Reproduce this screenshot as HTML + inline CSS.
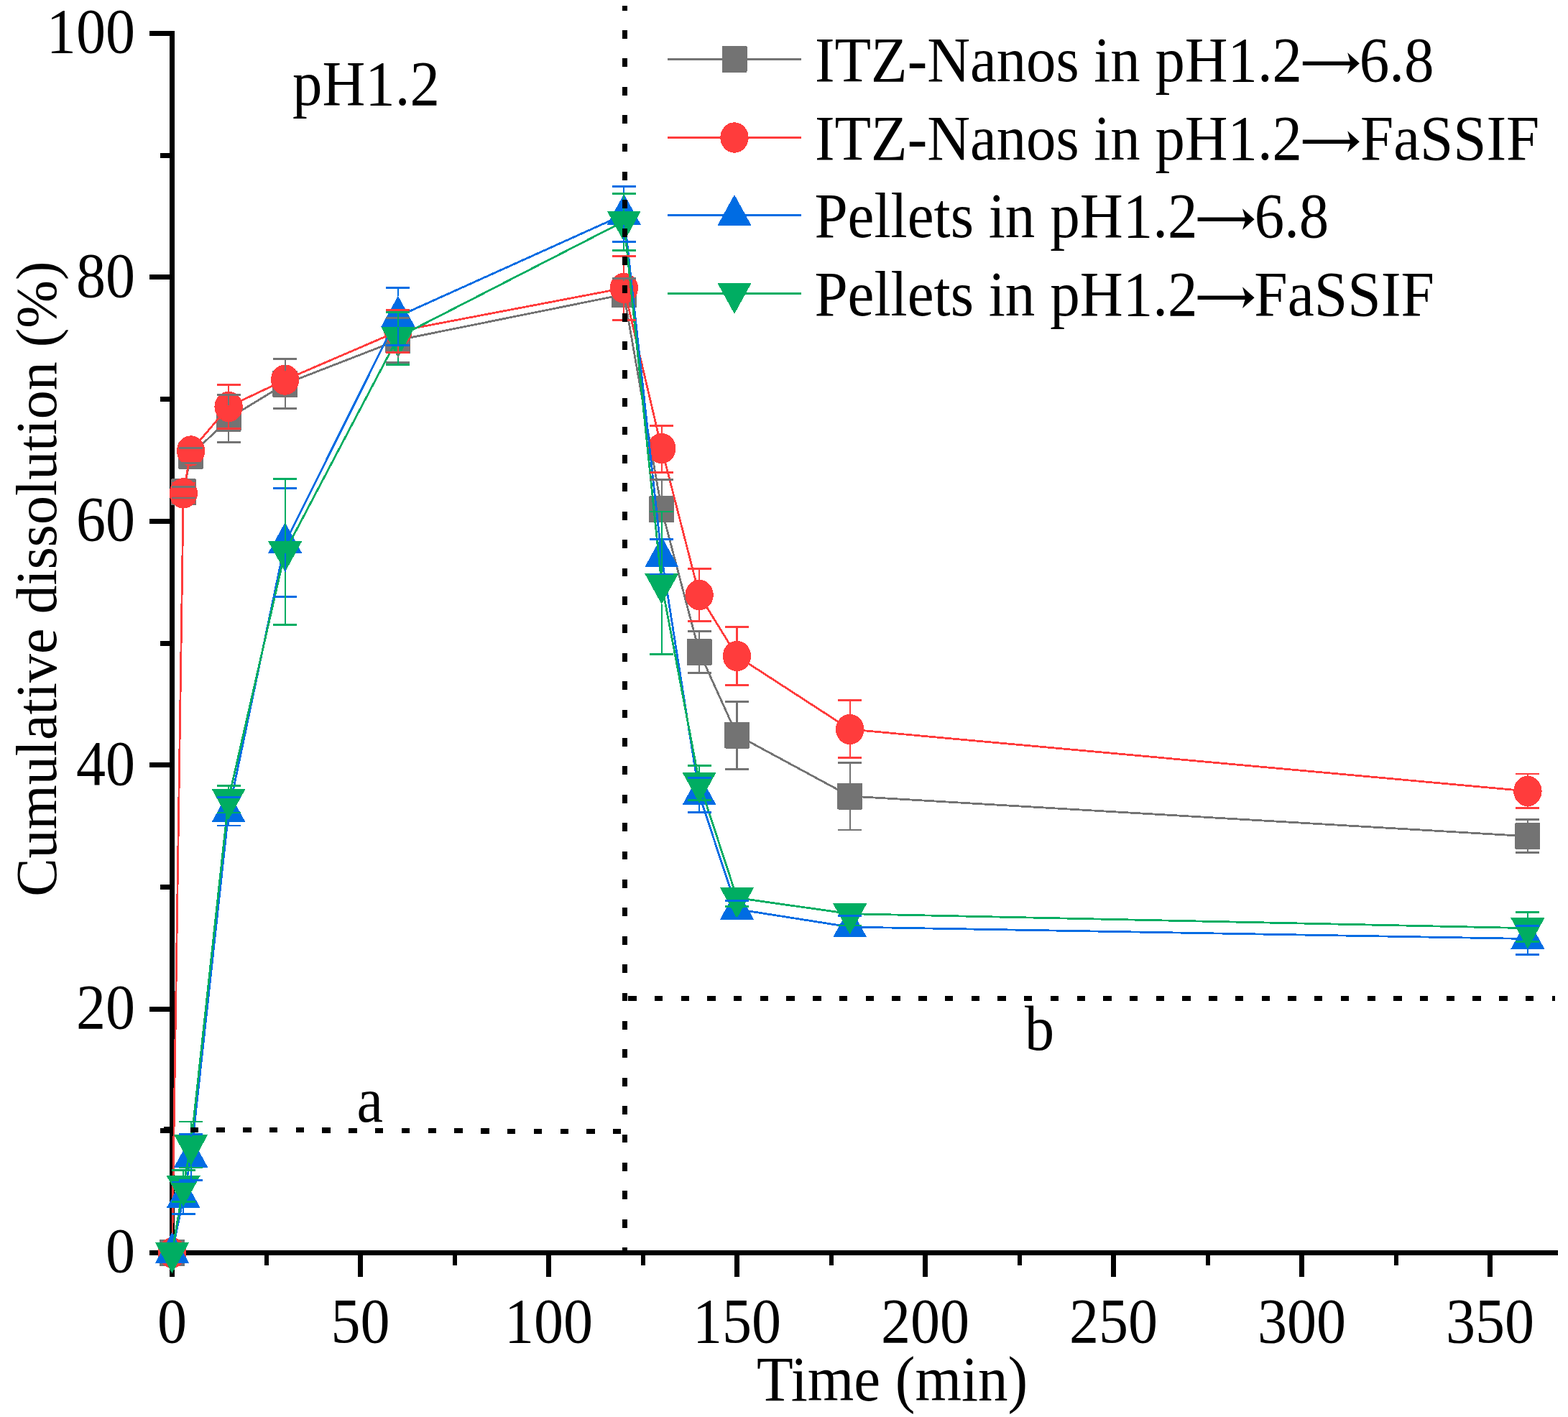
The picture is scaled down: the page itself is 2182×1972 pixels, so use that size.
<!DOCTYPE html>
<html><head><meta charset="utf-8"><title>Cumulative dissolution</title>
<style>html,body{margin:0;padding:0;background:#fff;overflow:hidden;}svg{display:block;}</style>
</head><body>
<svg width="2182" height="1972" viewBox="0 0 2182 1972" shape-rendering="crispEdges"><rect x="0" y="0" width="2182" height="1972" fill="#fff"/>
<g fill="#000"><rect x="236" y="43" width="7" height="1704"/><rect x="208" y="1740" width="1960" height="7"/><rect x="208" y="1740" width="30" height="7"/><rect x="208" y="1400.6" width="30" height="7"/><rect x="208" y="1061.2" width="30" height="7"/><rect x="208" y="721.8" width="30" height="7"/><rect x="208" y="382.4" width="30" height="7"/><rect x="208" y="43" width="30" height="7"/><rect x="222.5" y="1570.3" width="15" height="7"/><rect x="222.5" y="1230.9" width="15" height="7"/><rect x="222.5" y="891.5" width="15" height="7"/><rect x="222.5" y="552.1" width="15" height="7"/><rect x="222.5" y="212.7" width="15" height="7"/><rect x="236" y="1745" width="7" height="32"/><rect x="498" y="1745" width="7" height="32"/><rect x="760" y="1745" width="7" height="32"/><rect x="1022" y="1745" width="7" height="32"/><rect x="1284" y="1745" width="7" height="32"/><rect x="1546" y="1745" width="7" height="32"/><rect x="1808" y="1745" width="7" height="32"/><rect x="2070" y="1745" width="7" height="32"/><rect x="367.5" y="1745" width="6" height="15.7"/><rect x="629.5" y="1745" width="6" height="15.7"/><rect x="891.5" y="1745" width="6" height="15.7"/><rect x="1153.5" y="1745" width="6" height="15.7"/><rect x="1415.5" y="1745" width="6" height="15.7"/><rect x="1677.5" y="1745" width="6" height="15.7"/><rect x="1939.5" y="1745" width="6" height="15.7"/></g>
<polyline points="239.5,1743.5 255.22,684.9 265.7,634.1 318.1,582.2 396.7,534.3 553.9,473.3 868.3,409.8 920.7,708.7 973.1,907.3 1025.5,1023 1182.7,1108 2125.9,1163.8" fill="none" stroke="#737373" stroke-width="2.8" stroke-linejoin="round"/>
<rect x="222" y="1725" width="35" height="37" rx="1.5" fill="#737373"/><rect x="237.72" y="666.4" width="35" height="37" rx="1.5" fill="#737373"/><rect x="248.2" y="615.6" width="35" height="37" rx="1.5" fill="#737373"/><rect x="300.6" y="563.7" width="35" height="37" rx="1.5" fill="#737373"/><rect x="379.2" y="515.8" width="35" height="37" rx="1.5" fill="#737373"/><rect x="536.4" y="454.8" width="35" height="37" rx="1.5" fill="#737373"/><rect x="850.8" y="391.3" width="35" height="37" rx="1.5" fill="#737373"/><rect x="903.2" y="690.2" width="35" height="37" rx="1.5" fill="#737373"/><rect x="955.6" y="888.8" width="35" height="37" rx="1.5" fill="#737373"/><rect x="1008" y="1004.5" width="35" height="37" rx="1.5" fill="#737373"/><rect x="1165.2" y="1089.5" width="35" height="37" rx="1.5" fill="#737373"/><rect x="2108.4" y="1145.3" width="35" height="37" rx="1.5" fill="#737373"/>
<polyline points="239.5,1743.5 255.22,686.4 265.7,627.5 318.1,566 396.7,528.6 553.9,460.9 868.3,400.9 920.7,624 973.1,828 1025.5,913 1182.7,1015 2125.9,1101" fill="none" stroke="#FF3C3C" stroke-width="2.8" stroke-linejoin="round"/>
<ellipse cx="239.5" cy="1743.5" rx="19.7" ry="21.2" fill="#FF3C3C"/><ellipse cx="255.22" cy="686.4" rx="19.7" ry="21.2" fill="#FF3C3C"/><ellipse cx="265.7" cy="627.5" rx="19.7" ry="21.2" fill="#FF3C3C"/><ellipse cx="318.1" cy="566" rx="19.7" ry="21.2" fill="#FF3C3C"/><ellipse cx="396.7" cy="528.6" rx="19.7" ry="21.2" fill="#FF3C3C"/><ellipse cx="553.9" cy="460.9" rx="19.7" ry="21.2" fill="#FF3C3C"/><ellipse cx="868.3" cy="400.9" rx="19.7" ry="21.2" fill="#FF3C3C"/><ellipse cx="920.7" cy="624" rx="19.7" ry="21.2" fill="#FF3C3C"/><ellipse cx="973.1" cy="828" rx="19.7" ry="21.2" fill="#FF3C3C"/><ellipse cx="1025.5" cy="913" rx="19.7" ry="21.2" fill="#FF3C3C"/><ellipse cx="1182.7" cy="1015" rx="19.7" ry="21.2" fill="#FF3C3C"/><ellipse cx="2125.9" cy="1101" rx="19.7" ry="21.2" fill="#FF3C3C"/>
<polyline points="239.5,1743.5 255.22,1666.8 265.7,1610.3 318.1,1130 396.7,755.5 553.9,440.4 868.3,298.5 920.7,775.1 973.1,1105.9 1025.5,1265.3 1182.7,1290.1 2125.9,1306.5" fill="none" stroke="#006CE3" stroke-width="2.8" stroke-linejoin="round"/>
<path d="M239.5 1714.83L263.1 1757.83L215.9 1757.83Z" fill="#006CE3"/><path d="M255.22 1638.13L278.82 1681.13L231.62 1681.13Z" fill="#006CE3"/><path d="M265.7 1581.63L289.3 1624.63L242.1 1624.63Z" fill="#006CE3"/><path d="M318.1 1101.33L341.7 1144.33L294.5 1144.33Z" fill="#006CE3"/><path d="M396.7 726.83L420.3 769.83L373.1 769.83Z" fill="#006CE3"/><path d="M553.9 411.73L577.5 454.73L530.3 454.73Z" fill="#006CE3"/><path d="M868.3 269.83L891.9 312.83L844.7 312.83Z" fill="#006CE3"/><path d="M920.7 746.43L944.3 789.43L897.1 789.43Z" fill="#006CE3"/><path d="M973.1 1077.23L996.7 1120.23L949.5 1120.23Z" fill="#006CE3"/><path d="M1025.5 1236.63L1049.1 1279.63L1001.9 1279.63Z" fill="#006CE3"/><path d="M1182.7 1261.43L1206.3 1304.43L1159.1 1304.43Z" fill="#006CE3"/><path d="M2125.9 1277.83L2149.5 1320.83L2102.3 1320.83Z" fill="#006CE3"/>
<polyline points="239.5,1743.5 255.22,1650.4 265.7,1593.4 318.1,1112.1 396.7,767.5 553.9,469.3 868.3,308 920.7,812.3 973.1,1089.2 1025.5,1249.5 1182.7,1271.7 2125.9,1291.7" fill="none" stroke="#00AD62" stroke-width="2.8" stroke-linejoin="round"/>
<path d="M215.9 1729.17L263.1 1729.17L239.5 1772.17Z" fill="#00AD62"/><path d="M231.62 1636.07L278.82 1636.07L255.22 1679.07Z" fill="#00AD62"/><path d="M242.1 1579.07L289.3 1579.07L265.7 1622.07Z" fill="#00AD62"/><path d="M294.5 1097.77L341.7 1097.77L318.1 1140.77Z" fill="#00AD62"/><path d="M373.1 753.17L420.3 753.17L396.7 796.17Z" fill="#00AD62"/><path d="M530.3 454.97L577.5 454.97L553.9 497.97Z" fill="#00AD62"/><path d="M844.7 293.67L891.9 293.67L868.3 336.67Z" fill="#00AD62"/><path d="M897.1 797.97L944.3 797.97L920.7 840.97Z" fill="#00AD62"/><path d="M949.5 1074.87L996.7 1074.87L973.1 1117.87Z" fill="#00AD62"/><path d="M1001.9 1235.17L1049.1 1235.17L1025.5 1278.17Z" fill="#00AD62"/><path d="M1159.1 1257.37L1206.3 1257.37L1182.7 1300.37Z" fill="#00AD62"/><path d="M2102.3 1277.37L2149.5 1277.37L2125.9 1320.37Z" fill="#00AD62"/>
<g fill="#737373" stroke="#737373" stroke-width="2.1"><rect stroke="none" x="238.72" y="676.2" width="33" height="2.8"/><rect stroke="none" x="238.72" y="691.6" width="33" height="2.8"/><rect stroke="none" x="249.2" y="622.1" width="33" height="2.8"/><rect stroke="none" x="249.2" y="643.2" width="33" height="2.8"/><line x1="318.1" y1="563.7" x2="318.1" y2="549.5"/><rect stroke="none" x="301.6" y="548.1" width="33" height="2.8"/><line x1="318.1" y1="600.7" x2="318.1" y2="615.4"/><rect stroke="none" x="301.6" y="614" width="33" height="2.8"/><line x1="396.7" y1="515.8" x2="396.7" y2="499.5"/><rect stroke="none" x="380.2" y="498.1" width="33" height="2.8"/><line x1="396.7" y1="552.8" x2="396.7" y2="568.4"/><rect stroke="none" x="380.2" y="567" width="33" height="2.8"/><line x1="553.9" y1="454.8" x2="553.9" y2="442.4"/><rect stroke="none" x="537.4" y="441" width="33" height="2.8"/><line x1="553.9" y1="491.8" x2="553.9" y2="504.5"/><rect stroke="none" x="537.4" y="503.1" width="33" height="2.8"/><line x1="868.3" y1="391.3" x2="868.3" y2="387.3"/><rect stroke="none" x="851.8" y="385.9" width="33" height="2.8"/><line x1="920.7" y1="690.2" x2="920.7" y2="667.3"/><rect stroke="none" x="904.2" y="665.9" width="33" height="2.8"/><line x1="920.7" y1="727.2" x2="920.7" y2="750"/><rect stroke="none" x="904.2" y="748.6" width="33" height="2.8"/><line x1="973.1" y1="888.8" x2="973.1" y2="878.5"/><rect stroke="none" x="956.6" y="877.1" width="33" height="2.8"/><line x1="973.1" y1="925.8" x2="973.1" y2="936.8"/><rect stroke="none" x="956.6" y="935.4" width="33" height="2.8"/><line x1="1025.5" y1="1004.5" x2="1025.5" y2="976.6"/><rect stroke="none" x="1009" y="975.2" width="33" height="2.8"/><line x1="1025.5" y1="1041.5" x2="1025.5" y2="1070.1"/><rect stroke="none" x="1009" y="1068.7" width="33" height="2.8"/><line x1="1182.7" y1="1089.5" x2="1182.7" y2="1061.7"/><rect stroke="none" x="1166.2" y="1060.3" width="33" height="2.8"/><line x1="1182.7" y1="1126.5" x2="1182.7" y2="1155"/><rect stroke="none" x="1166.2" y="1153.6" width="33" height="2.8"/><line x1="2125.9" y1="1145.3" x2="2125.9" y2="1140.7"/><rect stroke="none" x="2109.4" y="1139.3" width="33" height="2.8"/><line x1="2125.9" y1="1182.3" x2="2125.9" y2="1186.5"/><rect stroke="none" x="2109.4" y="1185.1" width="33" height="2.8"/></g>
<g fill="#FF3C3C" stroke="#FF3C3C" stroke-width="2.1"><rect stroke="none" x="238.72" y="670.6" width="33" height="2.8"/><rect stroke="none" x="238.72" y="698.6" width="33" height="2.8"/><line x1="318.1" y1="544.8" x2="318.1" y2="535.2"/><rect stroke="none" x="301.6" y="533.8" width="33" height="2.8"/><line x1="318.1" y1="587.2" x2="318.1" y2="596.5"/><rect stroke="none" x="301.6" y="595.1" width="33" height="2.8"/><rect stroke="none" x="380.2" y="516.6" width="33" height="2.8"/><rect stroke="none" x="380.2" y="537.6" width="33" height="2.8"/><line x1="553.9" y1="439.7" x2="553.9" y2="431.5"/><rect stroke="none" x="537.4" y="430.1" width="33" height="2.8"/><line x1="553.9" y1="482.1" x2="553.9" y2="490.2"/><rect stroke="none" x="537.4" y="488.8" width="33" height="2.8"/><line x1="868.3" y1="379.7" x2="868.3" y2="356.5"/><rect stroke="none" x="851.8" y="355.1" width="33" height="2.8"/><line x1="868.3" y1="422.1" x2="868.3" y2="445.2"/><rect stroke="none" x="851.8" y="443.8" width="33" height="2.8"/><line x1="920.7" y1="602.8" x2="920.7" y2="592.3"/><rect stroke="none" x="904.2" y="590.9" width="33" height="2.8"/><line x1="920.7" y1="645.2" x2="920.7" y2="657.5"/><rect stroke="none" x="904.2" y="656.1" width="33" height="2.8"/><line x1="973.1" y1="806.8" x2="973.1" y2="791.4"/><rect stroke="none" x="956.6" y="790" width="33" height="2.8"/><line x1="973.1" y1="849.2" x2="973.1" y2="864.5"/><rect stroke="none" x="956.6" y="863.1" width="33" height="2.8"/><line x1="1025.5" y1="891.8" x2="1025.5" y2="872.3"/><rect stroke="none" x="1009" y="870.9" width="33" height="2.8"/><line x1="1025.5" y1="934.2" x2="1025.5" y2="953.5"/><rect stroke="none" x="1009" y="952.1" width="33" height="2.8"/><line x1="1182.7" y1="993.8" x2="1182.7" y2="974.2"/><rect stroke="none" x="1166.2" y="972.8" width="33" height="2.8"/><line x1="1182.7" y1="1036.2" x2="1182.7" y2="1054.8"/><rect stroke="none" x="1166.2" y="1053.4" width="33" height="2.8"/><line x1="2125.9" y1="1079.8" x2="2125.9" y2="1076.9"/><rect stroke="none" x="2109.4" y="1075.5" width="33" height="2.8"/><line x1="2125.9" y1="1122.2" x2="2125.9" y2="1124.8"/><rect stroke="none" x="2109.4" y="1123.4" width="33" height="2.8"/></g>
<g fill="#006CE3" stroke="#006CE3" stroke-width="2.1"><rect stroke="none" x="238.72" y="1643.6" width="33" height="2.8"/><line x1="255.22" y1="1681.13" x2="255.22" y2="1689.3"/><rect stroke="none" x="238.72" y="1687.9" width="33" height="2.8"/><line x1="265.7" y1="1581.63" x2="265.7" y2="1578.4"/><rect stroke="none" x="249.2" y="1577" width="33" height="2.8"/><line x1="265.7" y1="1624.63" x2="265.7" y2="1642.4"/><rect stroke="none" x="249.2" y="1641" width="33" height="2.8"/><rect stroke="none" x="301.6" y="1108.2" width="33" height="2.8"/><line x1="318.1" y1="1144.33" x2="318.1" y2="1148.9"/><rect stroke="none" x="301.6" y="1147.5" width="33" height="2.8"/><line x1="396.7" y1="726.83" x2="396.7" y2="679.3"/><rect stroke="none" x="380.2" y="677.9" width="33" height="2.8"/><line x1="396.7" y1="769.83" x2="396.7" y2="830.4"/><rect stroke="none" x="380.2" y="829" width="33" height="2.8"/><line x1="553.9" y1="411.73" x2="553.9" y2="400.4"/><rect stroke="none" x="537.4" y="399" width="33" height="2.8"/><line x1="553.9" y1="454.73" x2="553.9" y2="480.3"/><rect stroke="none" x="537.4" y="478.9" width="33" height="2.8"/><line x1="868.3" y1="269.83" x2="868.3" y2="259.3"/><rect stroke="none" x="851.8" y="257.9" width="33" height="2.8"/><line x1="868.3" y1="312.83" x2="868.3" y2="336.6"/><rect stroke="none" x="851.8" y="335.2" width="33" height="2.8"/><rect stroke="none" x="904.2" y="749.1" width="33" height="2.8"/><line x1="920.7" y1="789.43" x2="920.7" y2="798.9"/><rect stroke="none" x="904.2" y="797.5" width="33" height="2.8"/><rect stroke="none" x="956.6" y="1081" width="33" height="2.8"/><line x1="973.1" y1="1120.23" x2="973.1" y2="1130.5"/><rect stroke="none" x="956.6" y="1129.1" width="33" height="2.8"/><rect stroke="none" x="1009" y="1252" width="33" height="2.8"/><rect stroke="none" x="1009" y="1275.8" width="33" height="2.8"/><rect stroke="none" x="1166.2" y="1272.7" width="33" height="2.8"/><rect stroke="none" x="2109.4" y="1287.1" width="33" height="2.8"/><line x1="2125.9" y1="1320.83" x2="2125.9" y2="1328.4"/><rect stroke="none" x="2109.4" y="1327" width="33" height="2.8"/></g>
<g fill="#00AD62" stroke="#00AD62" stroke-width="2.1"><line x1="255.22" y1="1636.07" x2="255.22" y2="1628.5"/><rect stroke="none" x="238.72" y="1627.1" width="33" height="2.8"/><rect stroke="none" x="238.72" y="1670.8" width="33" height="2.8"/><line x1="265.7" y1="1579.07" x2="265.7" y2="1560.9"/><rect stroke="none" x="249.2" y="1559.5" width="33" height="2.8"/><line x1="265.7" y1="1622.07" x2="265.7" y2="1625"/><rect stroke="none" x="249.2" y="1623.6" width="33" height="2.8"/><line x1="318.1" y1="1097.77" x2="318.1" y2="1093.4"/><rect stroke="none" x="301.6" y="1092" width="33" height="2.8"/><rect stroke="none" x="301.6" y="1129.6" width="33" height="2.8"/><line x1="396.7" y1="753.17" x2="396.7" y2="666.4"/><rect stroke="none" x="380.2" y="665" width="33" height="2.8"/><line x1="396.7" y1="796.17" x2="396.7" y2="869.4"/><rect stroke="none" x="380.2" y="868" width="33" height="2.8"/><line x1="553.9" y1="454.97" x2="553.9" y2="434.5"/><rect stroke="none" x="537.4" y="433.1" width="33" height="2.8"/><line x1="553.9" y1="497.97" x2="553.9" y2="507.1"/><rect stroke="none" x="537.4" y="505.7" width="33" height="2.8"/><line x1="868.3" y1="293.67" x2="868.3" y2="269.3"/><rect stroke="none" x="851.8" y="267.9" width="33" height="2.8"/><line x1="868.3" y1="336.67" x2="868.3" y2="348.7"/><rect stroke="none" x="851.8" y="347.3" width="33" height="2.8"/><line x1="920.7" y1="797.97" x2="920.7" y2="712"/><rect stroke="none" x="904.2" y="710.6" width="33" height="2.8"/><line x1="920.7" y1="840.97" x2="920.7" y2="910.4"/><rect stroke="none" x="904.2" y="909" width="33" height="2.8"/><line x1="973.1" y1="1074.87" x2="973.1" y2="1065.3"/><rect stroke="none" x="956.6" y="1063.9" width="33" height="2.8"/><rect stroke="none" x="956.6" y="1111.7" width="33" height="2.8"/><rect stroke="none" x="1009" y="1235.8" width="33" height="2.8"/><rect stroke="none" x="1009" y="1260.4" width="33" height="2.8"/><rect stroke="none" x="1166.2" y="1286.6" width="33" height="2.8"/><line x1="2125.9" y1="1277.37" x2="2125.9" y2="1269.7"/><rect stroke="none" x="2109.4" y="1268.3" width="33" height="2.8"/><rect stroke="none" x="2109.4" y="1309.4" width="33" height="2.8"/></g>
<g fill="#000"><rect x="866" y="8" width="7" height="6.6"/><rect x="866" y="42" width="7" height="11.8"/><rect x="866" y="81.4" width="7" height="11.8"/><rect x="866" y="120.8" width="7" height="11.8"/><rect x="866" y="160.2" width="7" height="11.8"/><rect x="866" y="199.6" width="7" height="11.8"/><rect x="866" y="239" width="7" height="11.8"/><rect x="866" y="278.4" width="7" height="11.8"/><rect x="866" y="317.8" width="7" height="11.8"/><rect x="866" y="357.2" width="7" height="11.8"/><rect x="866" y="396.6" width="7" height="11.8"/><rect x="866" y="436" width="7" height="11.8"/><rect x="866" y="475.4" width="7" height="11.8"/><rect x="866" y="514.8" width="7" height="11.8"/><rect x="866" y="554.2" width="7" height="11.8"/><rect x="866" y="593.6" width="7" height="11.8"/><rect x="866" y="633" width="7" height="11.8"/><rect x="866" y="672.4" width="7" height="11.8"/><rect x="866" y="711.8" width="7" height="11.8"/><rect x="866" y="751.2" width="7" height="11.8"/><rect x="866" y="790.6" width="7" height="11.8"/><rect x="866" y="830" width="7" height="11.8"/><rect x="866" y="869.4" width="7" height="11.8"/><rect x="866" y="908.8" width="7" height="11.8"/><rect x="866" y="948.2" width="7" height="11.8"/><rect x="866" y="987.6" width="7" height="11.8"/><rect x="866" y="1027" width="7" height="11.8"/><rect x="866" y="1066.4" width="7" height="11.8"/><rect x="866" y="1105.8" width="7" height="11.8"/><rect x="866" y="1145.2" width="7" height="11.8"/><rect x="866" y="1184.6" width="7" height="11.8"/><rect x="866" y="1224" width="7" height="11.8"/><rect x="866" y="1263.4" width="7" height="11.8"/><rect x="866" y="1302.8" width="7" height="11.8"/><rect x="866" y="1342.2" width="7" height="11.8"/><rect x="866" y="1381.6" width="7" height="11.8"/><rect x="866" y="1421" width="7" height="11.8"/><rect x="866" y="1460.4" width="7" height="11.8"/><rect x="866" y="1499.8" width="7" height="11.8"/><rect x="866" y="1539.2" width="7" height="11.8"/><rect x="866" y="1578.6" width="7" height="11.8"/><rect x="866" y="1618" width="7" height="11.8"/><rect x="866" y="1657.4" width="7" height="11.8"/><rect x="866" y="1696.8" width="7" height="11.8"/><rect x="866" y="1736.2" width="7" height="3.8"/><rect x="227.8" y="1568.4" width="11.4" height="7.2"/><rect x="264.58" y="1568.56" width="11.4" height="7.2"/><rect x="301.36" y="1568.73" width="11.4" height="7.2"/><rect x="338.14" y="1568.89" width="11.4" height="7.2"/><rect x="374.92" y="1569.06" width="11.4" height="7.2"/><rect x="411.7" y="1569.22" width="11.4" height="7.2"/><rect x="448.48" y="1569.39" width="11.4" height="7.2"/><rect x="485.26" y="1569.55" width="11.4" height="7.2"/><rect x="522.04" y="1569.72" width="11.4" height="7.2"/><rect x="558.82" y="1569.88" width="11.4" height="7.2"/><rect x="595.6" y="1570.05" width="11.4" height="7.2"/><rect x="632.38" y="1570.21" width="11.4" height="7.2"/><rect x="669.16" y="1570.38" width="11.4" height="7.2"/><rect x="705.94" y="1570.54" width="11.4" height="7.2"/><rect x="742.72" y="1570.71" width="11.4" height="7.2"/><rect x="779.5" y="1570.87" width="11.4" height="7.2"/><rect x="816.28" y="1571.04" width="11.4" height="7.2"/><rect x="853.06" y="1571.2" width="11.4" height="7.2"/><rect x="874.1" y="1386" width="11.4" height="7"/><rect x="910.83" y="1386" width="11.4" height="7"/><rect x="947.56" y="1386" width="11.4" height="7"/><rect x="984.29" y="1386" width="11.4" height="7"/><rect x="1021.02" y="1386" width="11.4" height="7"/><rect x="1057.75" y="1386" width="11.4" height="7"/><rect x="1094.48" y="1386" width="11.4" height="7"/><rect x="1131.21" y="1386" width="11.4" height="7"/><rect x="1167.94" y="1386" width="11.4" height="7"/><rect x="1204.67" y="1386" width="11.4" height="7"/><rect x="1241.4" y="1386" width="11.4" height="7"/><rect x="1278.13" y="1386" width="11.4" height="7"/><rect x="1314.86" y="1386" width="11.4" height="7"/><rect x="1351.59" y="1386" width="11.4" height="7"/><rect x="1388.32" y="1386" width="11.4" height="7"/><rect x="1425.05" y="1386" width="11.4" height="7"/><rect x="1461.78" y="1386" width="11.4" height="7"/><rect x="1498.51" y="1386" width="11.4" height="7"/><rect x="1535.24" y="1386" width="11.4" height="7"/><rect x="1571.97" y="1386" width="11.4" height="7"/><rect x="1608.7" y="1386" width="11.4" height="7"/><rect x="1645.43" y="1386" width="11.4" height="7"/><rect x="1682.16" y="1386" width="11.4" height="7"/><rect x="1718.89" y="1386" width="11.4" height="7"/><rect x="1755.62" y="1386" width="11.4" height="7"/><rect x="1792.35" y="1386" width="11.4" height="7"/><rect x="1829.08" y="1386" width="11.4" height="7"/><rect x="1865.81" y="1386" width="11.4" height="7"/><rect x="1902.54" y="1386" width="11.4" height="7"/><rect x="1939.27" y="1386" width="11.4" height="7"/><rect x="1976" y="1386" width="11.4" height="7"/><rect x="2012.73" y="1386" width="11.4" height="7"/><rect x="2049.46" y="1386" width="11.4" height="7"/><rect x="2086.19" y="1386" width="11.4" height="7"/><rect x="2122.92" y="1386" width="11.4" height="7"/><rect x="2159.65" y="1386" width="4.35" height="7"/></g>
<rect x="929" y="80.9" width="186" height="3" fill="#737373"/><rect x="1004.5" y="63.9" width="35" height="37" rx="1.5" fill="#737373"/><rect x="929" y="190" width="186" height="3" fill="#FF3C3C"/><ellipse cx="1022" cy="191.5" rx="19.7" ry="21.2" fill="#FF3C3C"/><rect x="929" y="298" width="186" height="3" fill="#006CE3"/><path d="M1022 270.83L1045.6 313.83L998.4 313.83Z" fill="#006CE3"/><rect x="929" y="406.8" width="186" height="3" fill="#00AD62"/><path d="M998.4 393.97L1045.6 393.97L1022 436.97Z" fill="#00AD62"/>
<g font-family="'Liberation Serif', 'Times New Roman', serif" font-size="88" fill="#000"><text transform="translate(188 1770.3) scale(0.933 1)" text-anchor="end">0</text><text transform="translate(188 1430.9) scale(0.933 1)" text-anchor="end">20</text><text transform="translate(188 1091.5) scale(0.933 1)" text-anchor="end">40</text><text transform="translate(188 752.1) scale(0.933 1)" text-anchor="end">60</text><text transform="translate(188 412.7) scale(0.933 1)" text-anchor="end">80</text><text transform="translate(188 73.3) scale(0.933 1)" text-anchor="end">100</text><text transform="translate(239.5 1868) scale(0.933 1)" text-anchor="middle">0</text><text transform="translate(501.5 1868) scale(0.933 1)" text-anchor="middle">50</text><text transform="translate(763.5 1868) scale(0.933 1)" text-anchor="middle">100</text><text transform="translate(1025.5 1868) scale(0.933 1)" text-anchor="middle">150</text><text transform="translate(1287.5 1868) scale(0.933 1)" text-anchor="middle">200</text><text transform="translate(1549.5 1868) scale(0.933 1)" text-anchor="middle">250</text><text transform="translate(1811.5 1868) scale(0.933 1)" text-anchor="middle">300</text><text transform="translate(2073.5 1868) scale(0.933 1)" text-anchor="middle">350</text><text transform="translate(1052.9 1949) scale(0.9431 1)">Time (min)</text><text transform="translate(78 1247.8) rotate(-90)" font-size="80">Cumulative dissolution (%)</text><text transform="translate(407 145.8) scale(0.942 1)">pH1.2</text><text transform="translate(496.5 1561) scale(0.933 1)">a</text><text transform="translate(1426 1461) scale(0.933 1)">b</text><text transform="translate(1134 113) scale(0.9406 1)">ITZ-Nanos in pH1.2</text><text transform="translate(1811 119) scale(1 1)" font-family="NanumGothic, 'Noto Sans CJK KR', sans-serif" font-weight="bold" font-size="88">→</text><text transform="translate(1891.7 113) scale(0.945 1)">6.8</text><text transform="translate(1134 221.6) scale(0.9406 1)">ITZ-Nanos in pH1.2</text><text transform="translate(1811 227.6) scale(1 1)" font-family="NanumGothic, 'Noto Sans CJK KR', sans-serif" font-weight="bold" font-size="88">→</text><text transform="translate(1893 221.6) scale(0.944 1)">FaSSIF</text><text transform="translate(1133.4 329.6) scale(0.9445 1)">Pellets in pH1.2</text><text transform="translate(1664.8 335.6) scale(1 1)" font-family="NanumGothic, 'Noto Sans CJK KR', sans-serif" font-weight="bold" font-size="88">→</text><text transform="translate(1745.7 329.6) scale(0.942 1)">6.8</text><text transform="translate(1133.4 438.5) scale(0.9445 1)">Pellets in pH1.2</text><text transform="translate(1664.8 444.5) scale(1 1)" font-family="NanumGothic, 'Noto Sans CJK KR', sans-serif" font-weight="bold" font-size="88">→</text><text transform="translate(1745.2 438.5) scale(0.95 1)">FaSSIF</text></g></svg>
</body></html>
